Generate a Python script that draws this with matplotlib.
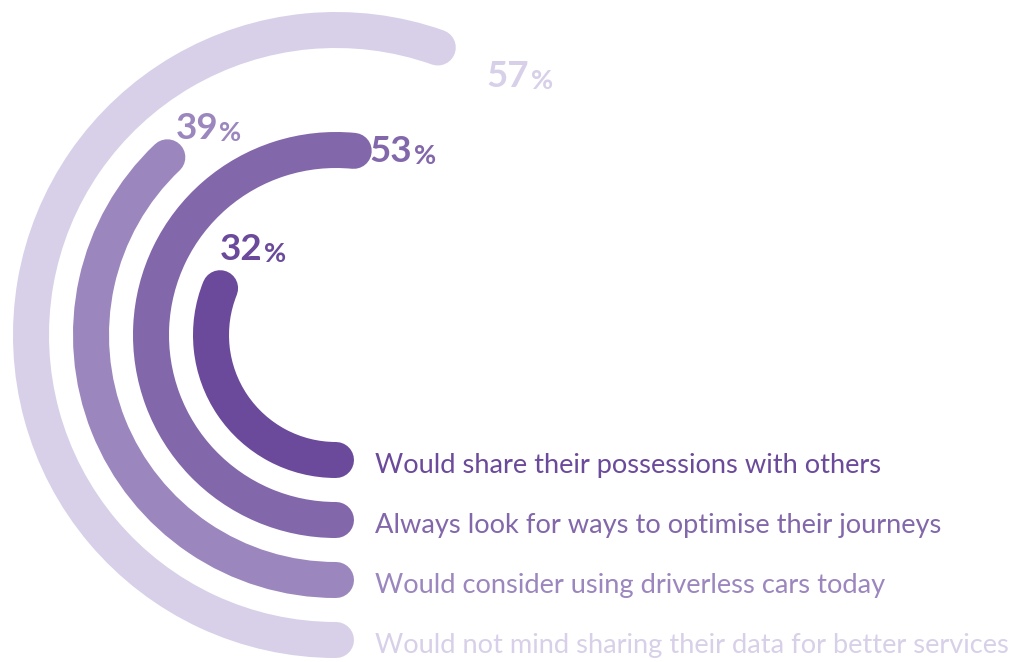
import matplotlib
matplotlib.use("Agg")
import matplotlib.pyplot as plt
import numpy as np

# ---- data ----
categories = [
    "Would share their possessions with others",
    "Always look for ways to optimise their journeys",
    "Would consider using driverless cars today",
    "Would not mind sharing their data for better services",
]
values = [32, 53, 39, 57]          # percent
pct_labels = ["32", "53", "39", "57"]

# ---- styles ----
colors = ["#6b4a9b", "#8267aa", "#9b86be", "#d8d0e8"]
radii = [125, 185, 245, 305]       # ring radius in px (data units)
deg_per_pct = 3.5
band_px = 36
# offsets (px) of percentage labels from arc end
pct_offsets = [(0, 28), (16, -11), (8, 18), (49, -40)]

W, H, DPI = 1015, 662, 100
fig = plt.figure(figsize=(W / DPI, H / DPI), dpi=DPI)
cx, cy_top, R = 336, 335, 340
cy = H - cy_top
ax = fig.add_axes([(cx - R) / W, (cy - R) / H, 2 * R / W, 2 * R / H], projection="polar")
ax.set_theta_zero_location("S")
ax.set_theta_direction(-1)
ax.set_ylim(0, R)
ax.axis("off")

px2pt = 72 / DPI
label_font = ["Lato", "DejaVu Sans"]

for v, r, c, cat, pl, off in zip(values, radii, colors, categories, pct_labels, pct_offsets):
    theta_end = np.deg2rad(v * deg_per_pct)
    line, = ax.plot([0, theta_end], [r, r], color=c, lw=band_px * px2pt,
                    solid_capstyle="round", clip_on=False)
    line.get_path()._interpolation_steps = 180  # draw as a true arc
    # category label at the start of the arc
    ax.annotate(cat, xy=(0, r), xytext=(39 * px2pt, -13 * px2pt),
                textcoords="offset points", ha="left", va="baseline",
                fontsize=19.6, color=c, family=label_font, annotation_clip=False)
    # percentage label near the arc end
    t = ax.annotate(pl, xy=(theta_end, r), xytext=(off[0] * px2pt, off[1] * px2pt),
                    textcoords="offset points", ha="left", va="baseline",
                    fontsize=26.5, fontweight="bold", color=c, family=label_font,
                    annotation_clip=False)
    ax.annotate("%", xy=(1, 0), xycoords=t, xytext=(1, 0),
                textcoords="offset points", ha="left", va="bottom",
                fontsize=19.5, fontweight="bold", color=c, family=label_font,
                annotation_clip=False)

fig.savefig("out.png", dpi=DPI)
